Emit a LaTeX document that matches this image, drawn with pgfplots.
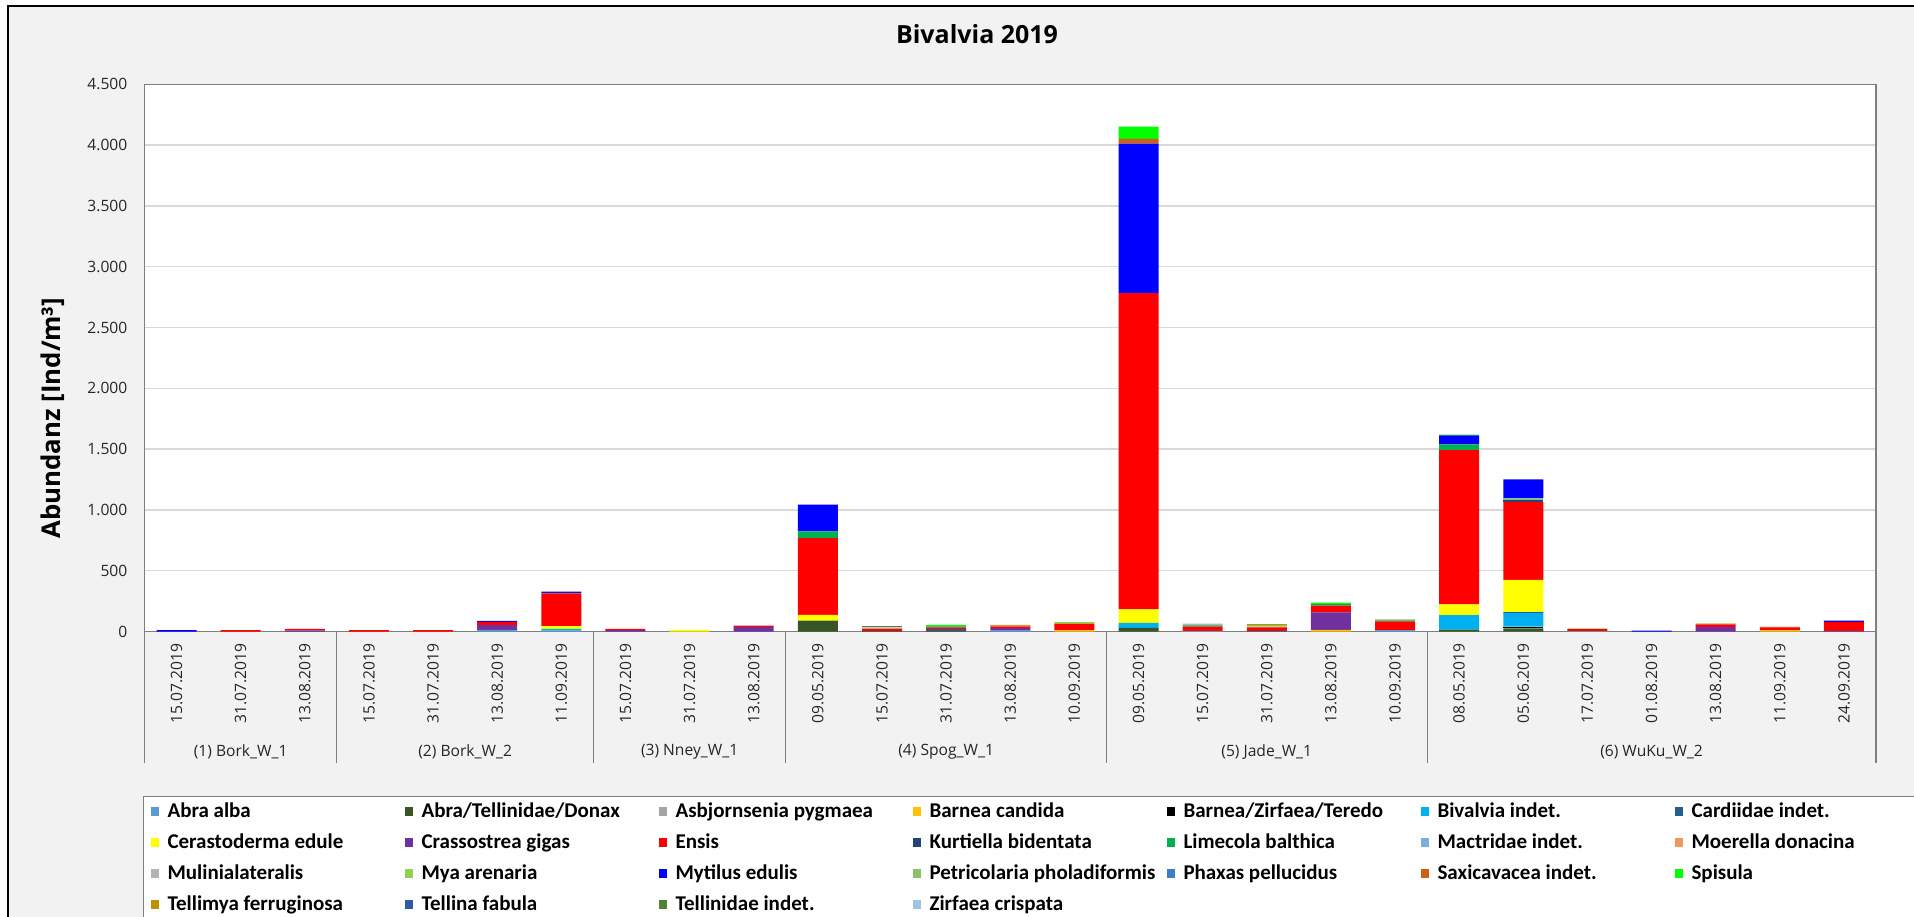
\documentclass[border=0pt]{standalone}
\usepackage{pgfplots}
\usepackage{pgfplotstable}
\pgfplotsset{compat=1.18}
\usepackage{fontspec}
\setmainfont{Open Sans}
\newfontfamily\legfont{Carlito}

\definecolor{bggray}{HTML}{F2F2F2}
\definecolor{axisgray}{HTML}{7F7F7F}
\definecolor{gridgray}{HTML}{D9D9D9}
\definecolor{cAA}{HTML}{5B9BD5}
\definecolor{cATD}{HTML}{375623}
\definecolor{cAsb}{HTML}{A5A5A5}
\definecolor{cBC}{HTML}{FFC000}
\definecolor{cBZT}{HTML}{000000}
\definecolor{cBiv}{HTML}{00B0F0}
\definecolor{cCar}{HTML}{255E91}
\definecolor{cCer}{HTML}{FFFF00}
\definecolor{cCra}{HTML}{7030A0}
\definecolor{cEns}{HTML}{FF0000}
\definecolor{cKur}{HTML}{264478}
\definecolor{cLim}{HTML}{00B050}
\definecolor{cMac}{HTML}{7CAFDD}
\definecolor{cMoe}{HTML}{F1975A}
\definecolor{cMul}{HTML}{B4B4B4}
\definecolor{cMya}{HTML}{92D050}
\definecolor{cMyt}{HTML}{0000FF}
\definecolor{cPet}{HTML}{8CC168}
\definecolor{cPha}{HTML}{3D7DC6}
\definecolor{cSax}{HTML}{CF5F14}
\definecolor{cSpi}{HTML}{00FF00}
\definecolor{cTfe}{HTML}{BF9000}
\definecolor{cTfa}{HTML}{3359A3}
\definecolor{cTel}{HTML}{548235}
\definecolor{cZir}{HTML}{9DC3E6}

\pgfplotstableread{
x AA ATD Asb BC BZT Biv Car Cer Cra Ens Kur Lim Mac Moe Mul Mya Myt Pet Pha Sax Spi Tfe Tfa Tel Zir
0  0 0 0 0 0  0 0 0 0 0  0 0 0 0 0  0 12 0 0 0  0 0 0 0 0
1  0 0 0 0 0  0 0 0 0 12  0 0 0 0 0  0 0 0 0 0  0 0 0 0 0
2  0 0 0 0 0  0 0 0 10 12  0 0 0 0 0  0 0 0 0 0  0 0 0 0 0
3  0 0 0 0 0  0 0 0 0 12  0 0 0 0 0  0 0 0 0 0  0 0 0 0 0
4  0 0 0 0 0  0 0 0 0 12  0 0 0 0 0  0 0 0 0 0  0 0 0 0 0
5  14 0 0 0 0  0 0 0 39 27  0 0 0 0 0  0 8 0 0 0  0 0 0 0 0
6  8 0 0 0 0  14 0 22 0 270  0 3 0 0 0  0 11 0 0 0  0 0 0 0 0
7  0 0 0 0 0  0 0 0 12 10  0 0 0 0 0  0 0 0 0 0  0 0 0 0 0
8  0 0 0 0 0  0 0 14 0 0  0 0 0 0 0  0 0 0 0 0  0 0 0 0 0
9  0 0 0 0 0  0 0 0 38 11  0 0 0 0 0  0 0 0 0 0  0 0 0 0 0
10 0 90 0 0 0  0 0 47 0 631  0 55 0 0 0  0 220 0 0 0  0 0 0 0 0
11 0 5 0 0 0  0 0 0 0 16  0 0 0 0 14  0 0 0 0 0  0 0 0 14 0
12 0 5 0 0 0  0 14 0 0 16  0 8 0 0 0  0 0 0 0 0  12 0 0 0 0
13 8 0 0 0 0  0 0 0 22 11  0 0 0 0 0  0 0 0 0 8  0 6 0 0 0
14 0 0 0 12 0  0 0 0 0 50  0 0 0 0 0  15 0 0 0 0  0 0 0 0 0
15 0 30 0 0 0  41 0 112 0 2600  0 0 0 0 0  0 1230 0 0 38  100 0 0 0 0
16 5 0 0 0 0  0 0 0 0 35  0 10 0 0 15  0 0 0 0 0  0 0 0 0 0
17 0 0 0 0 0  0 5 0 0 30  0 0 0 0 0  8 0 10 0 0  0 8 0 0 0
18 0 0 0 14 0  0 0 0 143 55  0 14 0 0 0  0 0 0 0 0  12 0 0 0 0
19 12 0 0 0 0  0 0 0 0 72  0 8 0 0 0  0 0 8 0 0  0 0 0 0 0
20 0 16 0 0 0  118 0 90 0 1267  0 47 0 0 0  0 74 0 0 0  8 0 0 0 0
21 0 25 0 0 16  110 8 266 0 639  14 0 9 0 0  10 154 0 0 0  0 0 0 0 0
22 3 0 0 0 0  0 0 0 0 17  0 0 0 0 0  5 0 0 0 0  0 0 0 0 0
23 0 0 0 0 0  0 0 0 0 0  0 0 0 0 0  0 8 0 0 0  0 0 0 0 0
24 0 0 0 0 0  0 0 0 36 22  0 0 0 0 0  8 0 0 0 0  0 0 0 0 0
25 0 0 0 11 0  0 0 0 0 22  0 0 0 0 0  0 0 8 0 0  0 0 0 0 0
26 0 0 0 0 0  0 0 0 5 74  0 0 0 0 0  0 11 0 0 0  0 0 0 0 0
}\data

\newcommand{\LE}[1]{\makebox[118.5pt][l]{\rule[-2.5pt]{0pt}{10pt}#1}}
\tikzset{grp/.style={font=\fontsize{7.8}{9}\selectfont, text=black!85, anchor=center, yshift=-60.1pt}}

\begin{document}
\begin{tikzpicture}
\useasboundingbox (0,0) rectangle (957pt,458pt);
\clip (0,0) rectangle (957pt,458pt);
\fill[white] (0,0) rectangle (957pt,458pt);
\fill[bggray] (4pt,-5pt) rectangle (975pt,455pt);
\draw[black, line width=0.6pt] (4pt,-5pt) rectangle (975pt,455pt);
\begin{axis}[
  at={(72.25pt,142.25pt)}, anchor=south west,
  scale only axis, width=865.75pt, height=273.6pt,
  ybar stacked, bar width=20pt,
  xmin=-0.5, xmax=26.5, ymin=0, ymax=4500,
  clip=false,
  ytick={0,500,...,4500},
  xtick={0,...,26},
  xticklabels={15.07.2019,31.07.2019,13.08.2019,15.07.2019,31.07.2019,13.08.2019,11.09.2019,15.07.2019,31.07.2019,13.08.2019,09.05.2019,15.07.2019,31.07.2019,13.08.2019,10.09.2019,09.05.2019,15.07.2019,31.07.2019,13.08.2019,10.09.2019,08.05.2019,05.06.2019,17.07.2019,01.08.2019,13.08.2019,11.09.2019,24.09.2019},
  yticklabel style={/pgf/number format/1000 sep={.}, /pgf/number format/assume math mode=true},
  axis background/.style={fill=white},
  axis line style={draw=axisgray, line width=0.6pt},
  ymajorgrids, grid style={draw=gridgray, line width=0.75pt},
  major tick length=0pt, tick style={draw=none},
  tick label style={font=\fontsize{7.8}{9}\selectfont, text=black!85},
  yticklabel style={anchor=east, inner sep=0pt, xshift=-8.4pt},
  xticklabel style={yshift=-5.75pt, rotate=90, anchor=east, inner sep=0pt},
  title={Bivalvia 2019},
  title style={at={(axis description cs:0.4808,1.070)}, anchor=center, font=\bfseries\fontsize{12.5}{15}\selectfont},
  ylabel={Abundanz [Ind/m³]},
  ylabel style={at={(axis description cs:-0.0528,0.390)}, anchor=center, font=\bfseries\fontsize{12.9}{15}\selectfont},
  legend columns=7,
  legend image code/.code={\fill[#1] (0pt,-2.2pt) rectangle (4.4pt,2.2pt);},
  legend style={at={(axis description cs:-0.0009,-0.300)}, anchor=north west,
    draw=axisgray, line width=0.6pt, fill=white,
    font=\legfont\bfseries\fontsize{10.5}{12}\selectfont,
    inner xsep=3.5pt, inner ysep=3pt, row sep=6.5pt,
    nodes={inner sep=0pt},
    /tikz/every odd column/.append style={column sep=4.1pt},
    cells={anchor=west}},
]
\addplot[fill=cAA, draw=none] table[x=x,y=AA]{\data}; \addlegendentry{\LE{Abra alba}}
\addplot[fill=cATD, draw=none] table[x=x,y=ATD]{\data}; \addlegendentry{\LE{Abra/Tellinidae/Donax}}
\addplot[fill=cAsb, draw=none] table[x=x,y=Asb]{\data}; \addlegendentry{\LE{Asbjornsenia pygmaea}}
\addplot[fill=cBC, draw=none] table[x=x,y=BC]{\data}; \addlegendentry{\LE{Barnea candida}}
\addplot[fill=cBZT, draw=none] table[x=x,y=BZT]{\data}; \addlegendentry{\LE{Barnea/Zirfaea/Teredo}}
\addplot[fill=cBiv, draw=none] table[x=x,y=Biv]{\data}; \addlegendentry{\LE{Bivalvia indet.}}
\addplot[fill=cCar, draw=none] table[x=x,y=Car]{\data}; \addlegendentry{\LE{Cardiidae indet.}}
\addplot[fill=cCer, draw=none] table[x=x,y=Cer]{\data}; \addlegendentry{\LE{Cerastoderma edule}}
\addplot[fill=cCra, draw=none] table[x=x,y=Cra]{\data}; \addlegendentry{\LE{Crassostrea gigas}}
\addplot[fill=cEns, draw=none] table[x=x,y=Ens]{\data}; \addlegendentry{\LE{Ensis}}
\addplot[fill=cKur, draw=none] table[x=x,y=Kur]{\data}; \addlegendentry{\LE{Kurtiella bidentata}}
\addplot[fill=cLim, draw=none] table[x=x,y=Lim]{\data}; \addlegendentry{\LE{Limecola balthica}}
\addplot[fill=cMac, draw=none] table[x=x,y=Mac]{\data}; \addlegendentry{\LE{Mactridae indet.}}
\addplot[fill=cMoe, draw=none] table[x=x,y=Moe]{\data}; \addlegendentry{\LE{Moerella donacina}}
\addplot[fill=cMul, draw=none] table[x=x,y=Mul]{\data}; \addlegendentry{\LE{Mulinialateralis}}
\addplot[fill=cMya, draw=none] table[x=x,y=Mya]{\data}; \addlegendentry{\LE{Mya arenaria}}
\addplot[fill=cMyt, draw=none] table[x=x,y=Myt]{\data}; \addlegendentry{\LE{Mytilus edulis}}
\addplot[fill=cPet, draw=none] table[x=x,y=Pet]{\data}; \addlegendentry{\LE{Petricolaria pholadiformis}}
\addplot[fill=cPha, draw=none] table[x=x,y=Pha]{\data}; \addlegendentry{\LE{Phaxas pellucidus}}
\addplot[fill=cSax, draw=none] table[x=x,y=Sax]{\data}; \addlegendentry{\LE{Saxicavacea indet.}}
\addplot[fill=cSpi, draw=none] table[x=x,y=Spi]{\data}; \addlegendentry{\LE{Spisula}}
\addplot[fill=cTfe, draw=none] table[x=x,y=Tfe]{\data}; \addlegendentry{\LE{Tellimya ferruginosa}}
\addplot[fill=cTfa, draw=none] table[x=x,y=Tfa]{\data}; \addlegendentry{\LE{Tellina fabula}}
\addplot[fill=cTel, draw=none] table[x=x,y=Tel]{\data}; \addlegendentry{\LE{Tellinidae indet.}}
\addplot[fill=cZir, draw=none] table[x=x,y=Zir]{\data}; \addlegendentry{\LE{Zirfaea crispata}}

\draw[axisgray, line width=0.6pt] (axis cs:-0.5,0) -- ++(0pt,-65.75pt);
\draw[axisgray, line width=0.6pt] (axis cs:2.5,0) -- ++(0pt,-65.75pt);
\draw[axisgray, line width=0.6pt] (axis cs:6.5,0) -- ++(0pt,-65.75pt);
\draw[axisgray, line width=0.6pt] (axis cs:9.5,0) -- ++(0pt,-65.75pt);
\draw[axisgray, line width=0.6pt] (axis cs:14.5,0) -- ++(0pt,-65.75pt);
\draw[axisgray, line width=0.6pt] (axis cs:19.5,0) -- ++(0pt,-65.75pt);
\draw[axisgray, line width=0.6pt] (axis cs:26.5,0) -- ++(0pt,-65.75pt);
\node[grp] at (axis cs:1,0) {(1) Bork\_W\_1};
\node[grp] at (axis cs:4.5,0) {(2) Bork\_W\_2};
\node[grp] at (axis cs:8,0) {(3) Nney\_W\_1};
\node[grp] at (axis cs:12,0) {(4) Spog\_W\_1};
\node[grp] at (axis cs:17,0) {(5) Jade\_W\_1};
\node[grp] at (axis cs:23,0) {(6) WuKu\_W\_2};
\end{axis}
\end{tikzpicture}
\end{document}
